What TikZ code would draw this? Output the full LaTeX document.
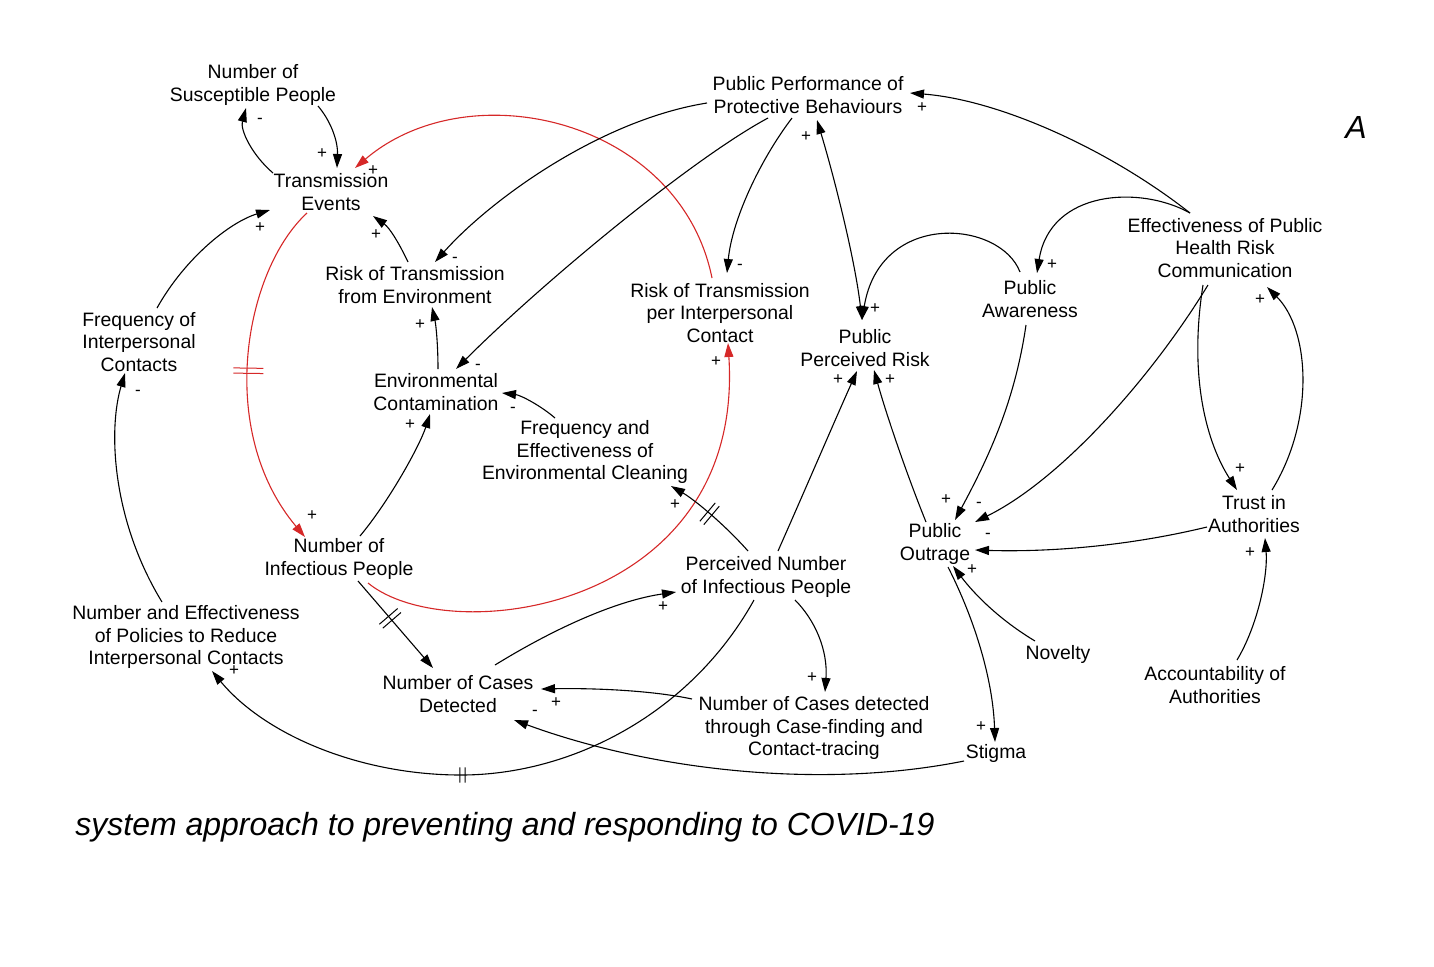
\documentclass[tikz,border=0pt]{standalone}
\usepackage{fontspec}
\setmainfont{Liberation Sans}
\usetikzlibrary{arrows.meta,calc,decorations.markings}
\definecolor{cldred}{RGB}{214,40,40}
\begin{document}
\begin{tikzpicture}[x=0.5pt,y=-0.5pt,
  var/.style={align=center,inner sep=0pt,font=\fontsize{9.7}{11.4}\selectfont},
  pol/.style={inner sep=0pt,font=\fontsize{8.5}{8.5}\selectfont},
  link/.style={line width=0.55pt,-{Triangle[length=7pt,width=4.5pt]}},
  rlink/.style={link,draw=cldred,{-{Triangle[length=7pt,width=4.5pt,fill=cldred]}}},
  delay/.style n args={2}{postaction={decorate},decoration={markings,
     mark=at position #1 with {\draw[-,line width=0.5pt] (-1.3pt,-#2)--(-1.3pt,#2) (1.3pt,-#2)--(1.3pt,#2);}}},
  rdelay/.style n args={2}{postaction={decorate},decoration={markings,
     mark=at position #1 with {\draw[-,line width=0.5pt,cldred] (-1.3pt,-#2)--(-1.3pt,#2) (1.3pt,-#2)--(1.3pt,#2);}}}
]
\useasboundingbox (0,0) rectangle (1434,966);
\fill[white] (0,0) rectangle (1434,966);

% variables
\node[var] (SP) at (253,85) {Number of\\Susceptible People};
\node[var] (TE) at (331,192) {Transmission\\Events};
\node[var] (FIC) at (139,342) {Frequency of\\Interpersonal\\Contacts};
\node[var] (RTE) at (415,285) {Risk of Transmission\\from Environment};
\node[var] (EC) at (436,392) {Environmental\\Contamination};
\node[var] (FEEC) at (585,452) {Frequency and\\Effectiveness of\\Environmental Cleaning};
\node[var] (NIP) at (339,559) {Number of\\Infectious People};
\node[var] (NEP) at (186,637) {Number and Effectiveness\\of Policies to Reduce\\Interpersonal Contacts};
\node[var] (NCD) at (458,694) {Number of Cases\\Detected};
\node[var] (PNIP) at (766,577) {Perceived Number\\of Infectious People};
\node[var] (NCDC) at (814,728) {Number of Cases detected\\through Case-finding and\\Contact-tracing};
\node[var] (PPPB) at (808,95) {Public Performance of\\Protective Behaviours};
\node[var] (RTIC) at (720,313) {Risk of Transmission\\per Interpersonal\\Contact};
\node[var] (PPR) at (865,348) {Public\\Perceived Risk};
\node[var] (PA) at (1030,299) {Public\\Awareness};
\node[var] (EPHRC) at (1225,248) {Effectiveness of Public\\Health Risk\\Communication};
\node[var] (TA) at (1254,514) {Trust in\\Authorities};
\node[var] (PO) at (935,544) {Public\\Outrage};
\node[var] (NOV) at (1058,654) {Novelty};
\node[var] (AA) at (1215,685) {Accountability of\\Authorities};
\node[var] (ST) at (996,753) {Stigma};

\node[font=\fontsize{16}{18}\selectfont\itshape,inner sep=0pt] (lblA) at (1356,127) {A};
\node[anchor=base west,inner sep=0pt,font=\fontsize{16}{18}\selectfont\itshape] (cap) at (75,835) {system approach to preventing and responding to COVID-19};

% red loop
\draw[rlink] ($(RTIC)+(-8,-35)$) .. controls (680,120) and (470,70) .. ($(TE)+(24,-24)$);
\draw[rlink,rdelay={0.49}{7.5pt}] ($(TE)+(-24,21)$) .. controls (245,270) and (215,430) .. ($(NIP)+(-34,-22)$);
\draw[rlink] ($(NIP)+(29,24)$) .. controls (450,650) and (745,610) .. ($(RTIC)+(8,30)$);

% black links
\draw[link] ($(TE)+(-58,-19)$) .. controls (252,155) and (240,130) .. ($(SP)+(-7,23)$);
\draw[link] ($(SP)+(65,21)$) .. controls (330,120) and (338,140) .. ($(TE)+(6,-24)$);
\draw[link] ($(FIC)+(18,-34)$) .. controls (185,258) and (230,222) .. ($(TE)+(-61,18)$);
\draw[link] ($(NEP)+(-24,-35)$) .. controls (112,520) and (108,430) .. ($(FIC)+(-14,31)$);
\draw[link] ($(RTE)+(-7,-23)$) .. controls (400,245) and (390,228) .. ($(TE)+(42,24)$);
\draw[link] ($(EC)+(2,-23)$) .. controls (438,345) and (436,325) .. ($(RTE)+(17,22)$);
\draw[link] ($(PPPB)+(-101,8)$) .. controls (600,120) and (490,200) .. ($(RTE)+(20,-23)$);
\draw[link] ($(PPPB)+(-40,23)$) .. controls (690,160) and (540,285) .. ($(EC)+(20,-23)$);
\draw[link] ($(PPPB)+(-16,23)$) .. controls (760,160) and (732,220) .. ($(RTIC)+(7,-40)$);
\draw[link,{Triangle[length=7pt,width=4.5pt]}-{Triangle[length=7pt,width=4.5pt]}] ($(PPPB)+(9,25)$) .. controls (835,180) and (855,260) .. ($(PPR)+(-3,-28)$);
\draw[link] ($(PA)+(-10,-27)$) .. controls (1000,220) and (880,210) .. ($(PPR)+(-3,-28)$);
\draw[link] ($(EPHRC)+(-35,-35)$) .. controls (1110,150) and (1000,100) .. ($(PPPB)+(102,-2)$);
\draw[link] ($(EPHRC)+(-35,-35)$) .. controls (1140,185) and (1050,190) .. ($(PA)+(7,-26)$);
\draw[link] ($(PA)+(-4,26)$) .. controls (1015,400) and (990,455) .. ($(PO)+(20,-24)$);
\draw[link] ($(EPHRC)+(-17,37)$) .. controls (1150,380) and (1060,480) .. ($(PO)+(40,-22)$);
\draw[link] ($(EPHRC)+(-22,37)$) .. controls (1188,380) and (1208,445) .. ($(TA)+(-17,-24)$);
\draw[link] ($(TA)+(18,-24)$) .. controls (1315,420) and (1310,330) .. ($(EPHRC)+(42,39)$);
\draw[link] ($(TA)+(-47,13)$) .. controls (1120,548) and (1040,552) .. ($(PO)+(40,6)$);
\draw[link] ($(AA)+(22,-25)$) .. controls (1258,625) and (1268,575) .. ($(TA)+(11,24)$);
\draw[link] ($(NOV)+(-23,-13)$) .. controls (1000,620) and (975,595) .. ($(PO)+(18,22)$);
\draw[link] ($(PO)+(13,23)$) .. controls (975,620) and (993,680) .. ($(ST)+(-1,-11)$);
\draw[link] ($(PO)+(-9,-22)$) .. controls (905,470) and (885,410) .. ($(PPR)+(9,22)$);
\draw[link] ($(PNIP)+(12,-26)$) .. controls (805,490) and (835,420) .. ($(PPR)+(-8,23)$);
\draw[link,delay={0.53}{6pt}] ($(PNIP)+(-18,-26)$) .. controls (725,525) and (695,500) .. ($(FEEC)+(86,34)$);
\draw[link] ($(FEEC)+(-30,-34)$) .. controls (540,405) and (520,395) .. ($(EC)+(66,1)$);
\draw[link] ($(NIP)+(21,-23)$) .. controls (390,500) and (420,445) .. ($(EC)+(-6,22)$);
\draw[link,delay={0.43}{6pt}] ($(NIP)+(19,22)$) -- ($(NCD)+(-25,-26)$);
\draw[link] ($(NCD)+(37,-29)$) .. controls (560,625) and (620,600) .. ($(PNIP)+(-90,15)$);
\draw[link] ($(PNIP)+(29,23)$) .. controls (815,620) and (828,650) .. ($(NCDC)+(11,-36)$);
\draw[link] ($(NCDC)+(-122,-29)$) .. controls (650,690) and (590,688) .. ($(NCD)+(83,-5)$);
\draw[link] ($(ST)+(-32,8)$) .. controls (820,790) and (650,770) .. ($(NCD)+(56,26)$);
\draw[link,delay={0.56}{3.8pt}] ($(PNIP)+(-12,23)$) .. controls (690,715) and (570,775) .. (461,775) .. controls (360,775) and (265,735) .. ($(NEP)+(26,34)$);

% polarities
\node[pol] (p1) at (260,121) {-};
\node[pol] (p2) at (322,154) {+};
\node[pol] (p3) at (373,171) {+};
\node[pol] (p4) at (312,516) {+};
\node[pol] (p5) at (716,362) {+};
\node[pol] (p6) at (260,228) {+};
\node[pol] (p7) at (138,393) {-};
\node[pol] (p8) at (376,235) {+};
\node[pol] (p9) at (420,325) {+};
\node[pol] (p10) at (455,260) {-};
\node[pol] (p11) at (478,367) {-};
\node[pol] (p12) at (740,267) {-};
\node[pol] (p13) at (806,137) {+};
\node[pol] (p14) at (875,309) {+};
\node[pol] (p15) at (922,108) {+};
\node[pol] (p16) at (1052,265) {+};
\node[pol] (p17) at (946,500) {+};
\node[pol] (p18) at (979,505) {-};
\node[pol] (p19) at (1240,469) {+};
\node[pol] (p20) at (1260,300) {+};
\node[pol] (p21) at (988,536) {-};
\node[pol] (p22) at (1250,553) {+};
\node[pol] (p23) at (972,570) {+};
\node[pol] (p24) at (981,727) {+};
\node[pol] (p25) at (890,380) {+};
\node[pol] (p26) at (838,380) {+};
\node[pol] (p27) at (675,505) {+};
\node[pol] (p28) at (513,410) {-};
\node[pol] (p29) at (410,425) {+};
\node[pol] (p30) at (663,607) {+};
\node[pol] (p31) at (812,678) {+};
\node[pol] (p32) at (556,703) {+};
\node[pol] (p33) at (535,713) {-};
\node[pol] (p34) at (234,671) {+};
\end{tikzpicture}
\end{document}
